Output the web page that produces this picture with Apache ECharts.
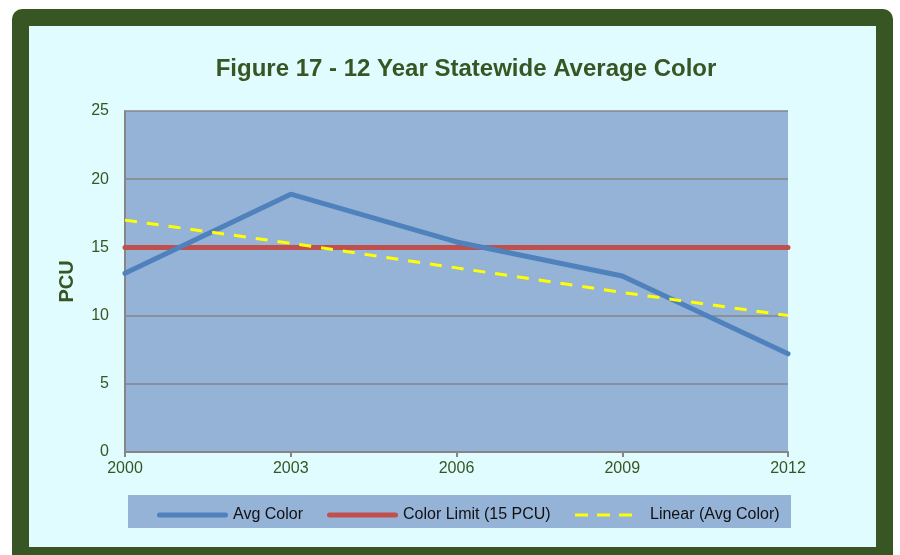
<!DOCTYPE html>
<html>
<head>
<meta charset="utf-8">
<script src="https://cdn.jsdelivr.net/npm/echarts@6.0.0/dist/echarts.min.js"></script>
<style>
  html, body { margin: 0; padding: 0; background: #fff; }
  #frame {
    position: absolute; left: 12px; top: 9px; width: 881px; height: 580px;
    background: #375623; border-radius: 10px;
  }
  #inner {
    position: absolute; left: 29px; top: 26px; width: 847px; height: 521px;
    background: #e0fcff;
  }
  #chart { position: absolute; left: 0; top: 0; width: 900px; height: 555px; }
</style>
</head>
<body>
<div id="frame"></div>
<div id="inner"></div>
<div id="chart"></div>
<script>
// chart data
const years = ["2000", "2003", "2006", "2009", "2012"];
const avgColor = [13.1, 18.9, 15.4, 12.9, 7.2];
const colorLimit = [15, 15, 15, 15, 15];
const linearTrend = [17.0, 15.3, 13.5, 11.7, 10.0];
const yMin = 0, yMax = 25, yStep = 5;

const green = "#375623";
const grey = "#868686";
const font = "Liberation Sans, Arial, sans-serif";

// legend icons: solid rounded bar, and three dashes
const solidIcon = "path://M2.5,0h66a2.5,2.5 0 0 1 0,5h-66a2.5,2.5 0 0 1 0,-5z";
const dashIcon = "path://M0,0h13v3h-13z M22,0h13v3h-13z M44,0h13v3h-13z";

function legendAt(name, left, icon, width, height, extraPad) {
  return {
    data: [{ name: name, icon: icon }],
    left: left,
    top: 502,
    itemWidth: width,
    itemHeight: height,
    textStyle: {
      fontSize: 16,
      color: "#111",
      fontFamily: font,
      padding: [0, 0, 0, extraPad || 0],
    },
  };
}

const myChart = echarts.init(document.getElementById("chart"));
const option = {
  backgroundColor: "transparent",
  animation: false,
  title: {
    text: "Figure 17 - 12 Year Statewide Average Color",
    left: 461,
    top: 52,
    textAlign: "center",
    textStyle: { color: green, fontSize: 24, fontWeight: "bold", fontFamily: font },
  },
  graphic: [
    {
      type: "rect",
      shape: { x: 128, y: 495, width: 663, height: 33 },
      style: { fill: "#95b3d7" },
      z: 1,
    },
  ],
  legend: [
    legendAt("Avg Color", 152, solidIcon, 71, 5),
    legendAt("Color Limit (15 PCU)", 322, solidIcon, 71, 5),
    legendAt("Linear (Avg Color)", 570, dashIcon, 57, 3, 13),
  ],
  grid: {
    left: 125,
    right: 112,
    top: 111,
    bottom: 103,
    show: true,
    backgroundColor: "#95b3d7",
    borderWidth: 0,
  },
  xAxis: {
    type: "category",
    data: years,
    boundaryGap: false,
    axisLine: { show: true, lineStyle: { color: grey, width: 2 } },
    axisTick: { show: true, length: 5, lineStyle: { color: grey, width: 2 } },
    axisLabel: { color: green, fontSize: 16, margin: 9, fontFamily: font },
    splitLine: { show: false },
  },
  yAxis: {
    type: "value",
    min: yMin,
    max: yMax,
    interval: yStep,
    name: "PCU",
    nameLocation: "middle",
    nameRotate: 90,
    nameGap: 48,
    nameTextStyle: { color: green, fontSize: 20, fontWeight: "bold", fontFamily: font },
    axisLine: { show: true, lineStyle: { color: grey, width: 2 } },
    axisTick: { show: false },
    axisLabel: { color: green, fontSize: 16, margin: 16, fontFamily: font },
    splitLine: { show: true, lineStyle: { color: grey, width: 1.5 } },
  },
  series: [
    {
      name: "Avg Color",
      type: "line",
      data: avgColor,
      symbol: "none",
      z: 3,
      lineStyle: { color: "#4f81bd", width: 5, cap: "round" },
      itemStyle: { color: "#4f81bd" },
    },
    {
      name: "Color Limit (15 PCU)",
      type: "line",
      data: colorLimit,
      symbol: "none",
      z: 2,
      lineStyle: { color: "#c0504d", width: 5, cap: "round" },
      itemStyle: { color: "#c0504d" },
    },
    {
      name: "Linear (Avg Color)",
      type: "line",
      data: linearTrend,
      symbol: "none",
      z: 4,
      lineStyle: { color: "#ffff00", width: 3, type: [12, 10] },
      itemStyle: { color: "#ffff00" },
    },
  ],
};
myChart.setOption(option); // 渲染
</script>
</body>
</html>
